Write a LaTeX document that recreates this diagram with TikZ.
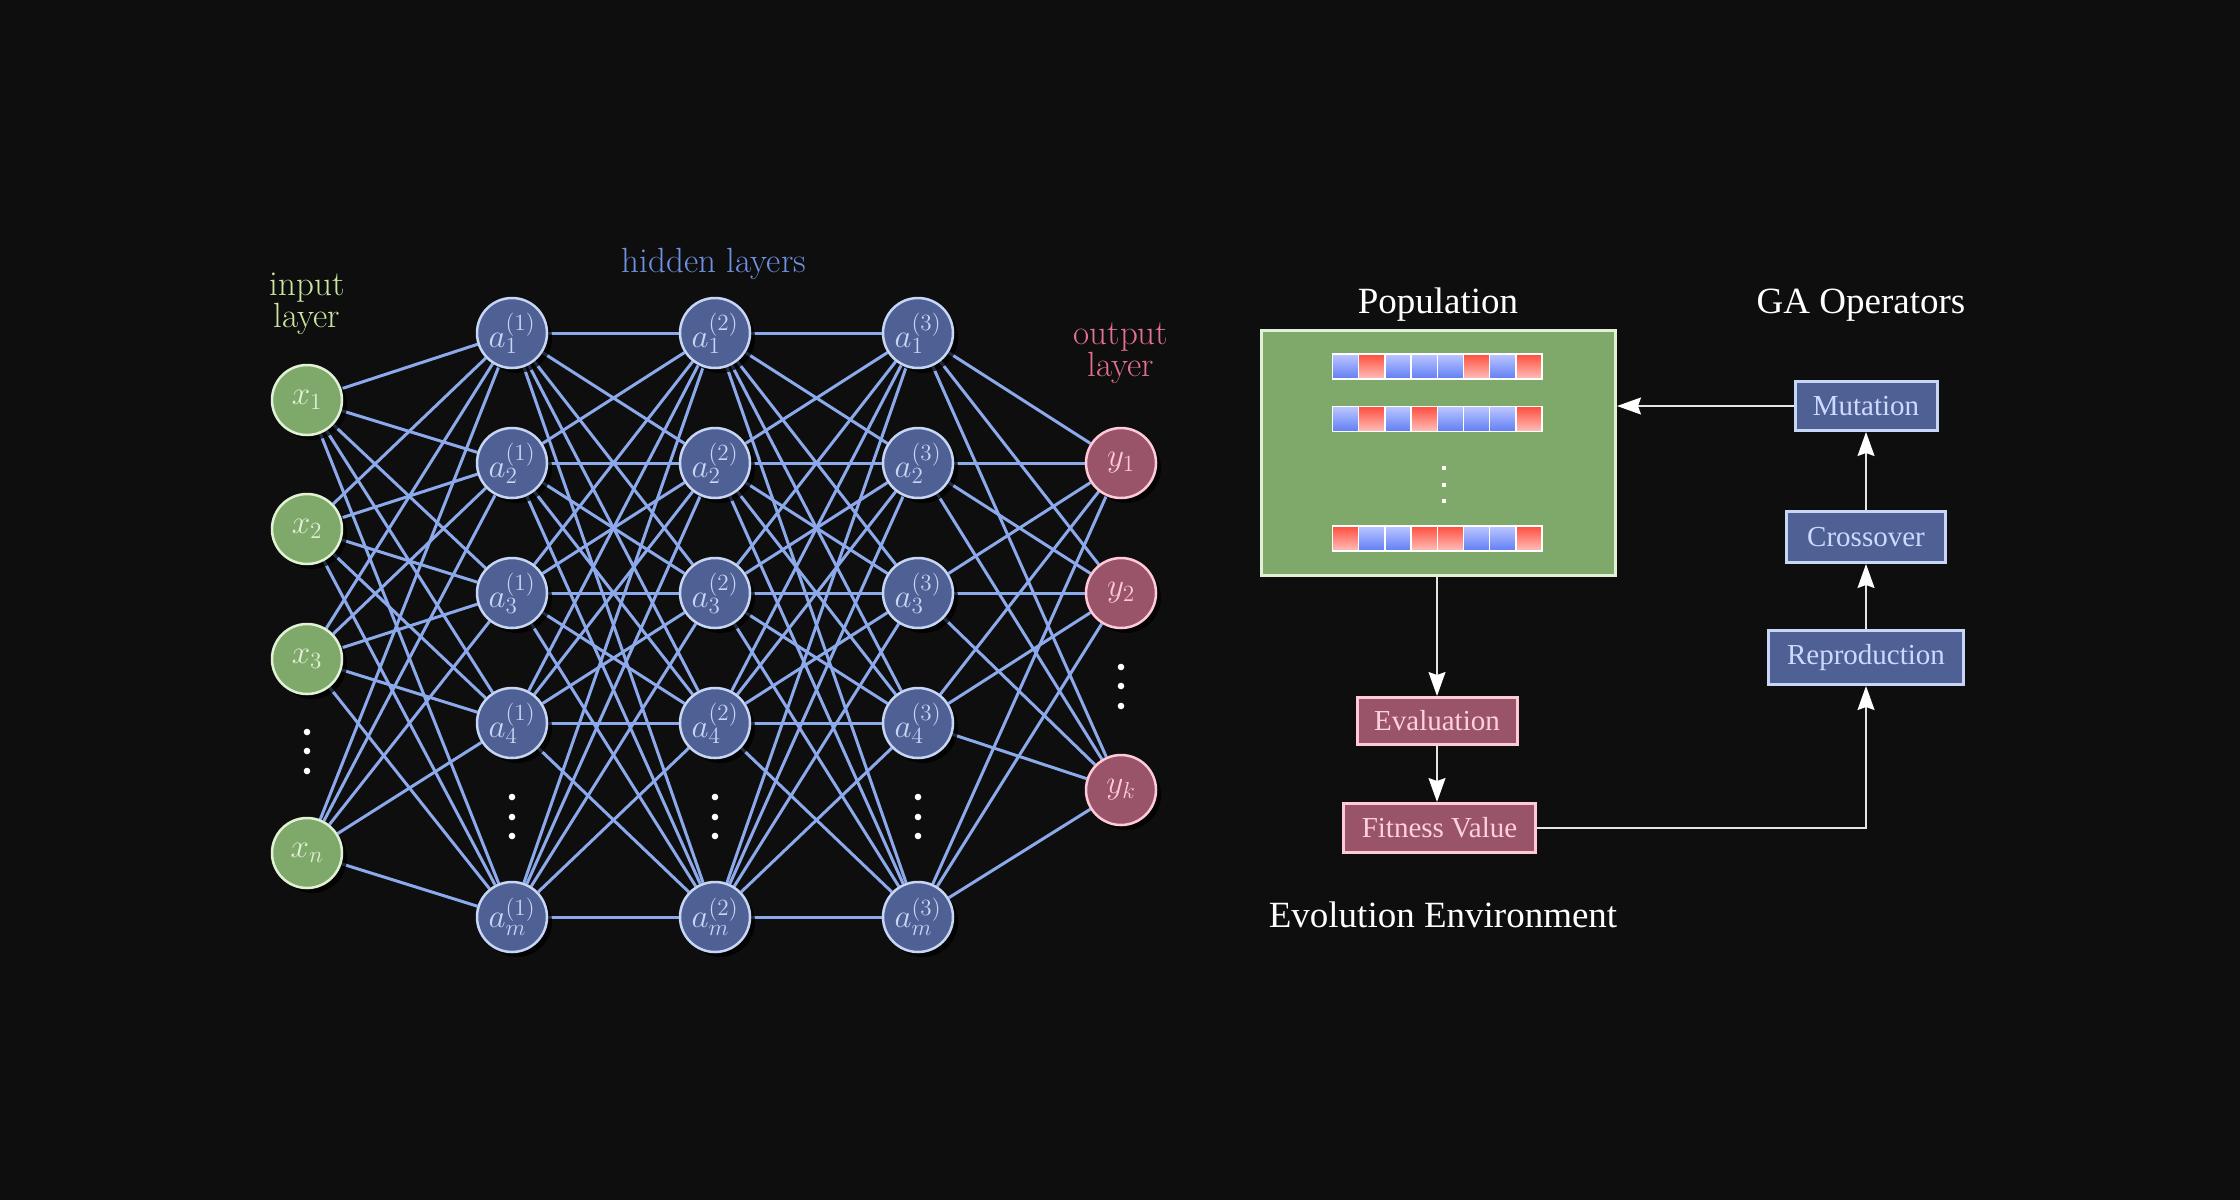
\RequirePackage{fix-cm}
\documentclass[tikz,border=0pt]{standalone}
\usepackage{fontspec}
\newfontfamily\tnr{Liberation Serif}
\usetikzlibrary{shadows,arrows.meta,calc}
\pgfdeclarelayer{bglayer}
\pgfdeclarelayer{edgelayer}
\pgfsetlayers{bglayer,edgelayer,main}
\newcommand{\nlab}[1]{\scalebox{1.38}{$#1$}}
\definecolor{bgc}{RGB}{14,14,14}
\definecolor{greenfill}{RGB}{127,168,107}
\definecolor{greenborder}{RGB}{225,242,212}
\definecolor{bluefill}{RGB}{79,96,148}
\definecolor{blueborder}{RGB}{200,214,245}
\definecolor{pinkfill}{RGB}{153,84,105}
\definecolor{pinkborder}{RGB}{255,202,216}
\definecolor{edgec}{RGB}{140,170,235}
\definecolor{inputc}{RGB}{200,230,160}
\definecolor{hidc}{RGB}{110,145,228}
\definecolor{outc}{RGB}{226,112,142}
\definecolor{bluetext}{RGB}{205,218,255}
\definecolor{pinktext}{RGB}{255,208,222}
\definecolor{arrc}{RGB}{228,228,228}
\definecolor{cbtop}{RGB}{188,198,255}
\definecolor{cbbot}{RGB}{96,126,245}
\definecolor{crtop}{RGB}{255,78,62}
\definecolor{crbot}{RGB}{255,192,188}
\begin{document}
\begin{tikzpicture}[x=1pt,y=-1pt,
  neuron/.style={circle,minimum size=70pt,inner sep=0pt,line width=2.5pt,
     font=\fontsize{24}{28}\selectfont,
     drop shadow={shadow xshift=5pt,shadow yshift=-5pt,fill=black,opacity=0.75}},
  innode/.style={neuron,fill=greenfill,draw=greenborder,text=greenborder},
  hidnode/.style={neuron,fill=bluefill,draw=blueborder,text=blueborder},
  outnode/.style={neuron,fill=pinkfill,draw=pinkborder,text=pinkborder},
  edge/.style={draw=edgec,line width=3pt},
  lbl/.style={font=\fontsize{35}{35}\selectfont,anchor=base,inner sep=0pt},
  title/.style={font=\tnr\fontsize{37}{44}\selectfont,text=white,anchor=base,inner sep=0pt},
  opbox/.style={draw=blueborder,fill=bluefill,line width=3pt,text=bluetext,
     font=\tnr\fontsize{29}{34}\selectfont,inner sep=0pt},
  evbox/.style={draw=pinkborder,fill=pinkfill,line width=3pt,text=pinktext,
     font=\tnr\fontsize{29}{34}\selectfont,inner sep=0pt},
  arr/.style={draw=arrc,line width=1.5pt,-{Stealth[length=24pt,width=17pt,inset=3pt,color=white]}},
  cellb/.style={top color=cbtop,bottom color=cbbot,draw=white,line width=1.5pt},
  cellr/.style={top color=crtop,bottom color=crbot,draw=white,line width=1.5pt}
]
\begin{pgfonlayer}{bglayer}
\fill[bgc] (0,0) rectangle (2240,1200);
\end{pgfonlayer}
\useasboundingbox (0,0) rectangle (2240,1200);

% ---------------- neural network ----------------
\foreach \n/\y in {1/400,2/529,3/659,n/853}
  \node[innode] (x\n) at (307,\y) {\nlab{x_{\n}}};
\foreach \L/\X in {1/512,2/715,3/918}
  \foreach \i/\y in {1/333,2/463,3/593,4/723,m/917}
    \node[hidnode] (h\L\i) at (\X,\y) {\nlab{a_{\i}^{(\L)}}};
\foreach \k/\y in {1/463,2/593,k/790}
  \node[outnode] (y\k) at (1121,\y) {\nlab{y_{\k}}};

\begin{pgfonlayer}{edgelayer}
\foreach \a in {1,2,3,n}
  \foreach \b in {1,2,3,4,m}
    \draw[edge] (x\a) -- (h1\b);
\foreach \a in {1,2,3,4,m}
  \foreach \b in {1,2,3,4,m}
    {\draw[edge] (h1\a) -- (h2\b);
     \draw[edge] (h2\a) -- (h3\b);}
\foreach \a in {1,2,3,4,m}
  \foreach \b in {1,2,k}
    \draw[edge] (h3\a) -- (y\b);
\end{pgfonlayer}

% vertical dots
\foreach \y in {732,751,771} \fill[white] (307,\y) circle (3.3);
\foreach \X in {512,715,918}
  \foreach \y in {797,817,836} \fill[white] (\X,\y) circle (3.3);
\foreach \y in {667,686,706} \fill[white] (1121,\y) circle (3.3);

% layer labels
\node[lbl,text=inputc] (lin1) at (307,295) {input};
\node[lbl,text=inputc] (lin2) at (307,327) {layer};
\node[lbl,text=hidc] (lhid) at (714,272) {hidden layers};
\node[lbl,text=outc] (lout1) at (1121,344) {output};
\node[lbl,text=outc] (lout2) at (1121,376) {layer};

% ---------------- genetic algorithm ----------------
\node[title] (tpop) at (1438,313) {Population};
\node[title] (tga) at (1861,313) {GA Operators};
\node[title] (tevo) at (1443,927) {Evolution Environment};

\node[draw=greenborder,fill=greenfill,line width=3pt,minimum width=354pt,
      minimum height=245pt,inner sep=0pt] (pop) at (1438.5,453) {};

\foreach \y/\pat in {354/{b,r,b,b,b,r,b,r},406.5/{b,r,b,r,b,b,b,r},526/{r,b,b,r,r,b,b,r}}
  \foreach \c [count=\i from 0] in \pat
    \draw[cell\c] ({1332.5+26.2*\i},\y) rectangle +(26.2,25);

\foreach \y in {468,484.5,501} \fill[white] (1442,\y-2) rectangle (1446,\y+2);

\node[opbox,minimum width=142pt,minimum height=49pt] (mut) at (1866,406) {Mutation};
\node[opbox,minimum width=159pt,minimum height=51pt] (cro) at (1866,537) {Crossover};
\node[opbox,minimum width=195pt,minimum height=54pt] (rep) at (1866,657.5) {Reproduction};
\node[evbox,minimum width=160pt,minimum height=47pt] (eva) at (1437,721) {Evaluation};
\node[evbox,minimum width=192pt,minimum height=49pt] (fit) at (1439.5,828) {Fitness Value};

\draw[arr] (pop.south -| eva.north) -- (eva.north);
\draw[arr] (eva.south) -- (eva.south |- fit.north);
\draw[arr] (fit.east) -| (rep.south);
\draw[arr] (rep.north) -- (cro.south);
\draw[arr] (cro.north) -- (mut.south);
\draw[arr] (mut.west) -- (mut.west -| pop.east);
\end{tikzpicture}
\end{document}
